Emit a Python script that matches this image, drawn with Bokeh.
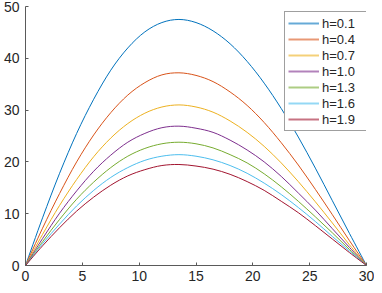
from bokeh.plotting import figure
from bokeh.models import Legend, LegendItem, FixedTicker, Range1d, ColumnDataSource
from bokeh.embed import file_html
from bokeh.resources import INLINE

x = [0, 1.5, 3, 4.5, 6, 7.5, 9, 10.5, 12, 13.5, 15, 16.5, 18, 19.5, 21, 22.5, 24, 25.5, 27, 28.5, 30]

y_h01 = [0, 9.2, 17.8, 25.5, 32.1, 37.7, 42.0, 45.1, 46.9, 47.5, 46.9, 45.3, 42.8, 39.4, 35.2, 30.3, 24.8, 18.8, 12.5, 6.2, 0]
y_h04 = [0, 7.2, 13.9, 20.0, 25.2, 29.5, 32.9, 35.3, 36.8, 37.2, 36.7, 35.5, 33.5, 30.9, 27.6, 23.7, 19.4, 14.7, 9.8, 4.8, 0]
y_h07 = [0, 6.0, 11.6, 16.6, 21.0, 24.6, 27.4, 29.4, 30.6, 31.0, 30.6, 29.6, 27.9, 25.7, 23.0, 19.8, 16.2, 12.3, 8.2, 4.0, 0]
y_h10 = [0, 5.2, 10.1, 14.4, 18.2, 21.3, 23.8, 25.5, 26.6, 26.9, 26.5, 25.7, 24.2, 22.3, 20.0, 17.2, 14.0, 10.7, 7.1, 3.5, 0]
y_h13 = [0, 4.6, 8.9, 12.8, 16.1, 18.9, 21.1, 22.6, 23.5, 23.8, 23.5, 22.7, 21.4, 19.8, 17.7, 15.2, 12.4, 9.4, 6.3, 3.1, 0]
y_h16 = [0, 4.2, 8.0, 11.5, 14.5, 17.0, 18.9, 20.3, 21.1, 21.4, 21.1, 20.4, 19.3, 17.8, 15.9, 13.7, 11.2, 8.5, 5.6, 2.8, 0]
y_h19 = [0, 3.8, 7.3, 10.5, 13.2, 15.5, 17.3, 18.5, 19.3, 19.5, 19.2, 18.6, 17.6, 16.2, 14.5, 12.4, 10.2, 7.7, 5.1, 2.5, 0]

labels = ["h=0.1", "h=0.4", "h=0.7", "h=1.0", "h=1.3", "h=1.6", "h=1.9"]
series = [y_h01, y_h04, y_h07, y_h10, y_h13, y_h16, y_h19]
colors = ["#0072BD", "#D95319", "#EDB120", "#7E2F8E", "#77AC30", "#4DBEEE", "#A2142F"]

x_ticks = [0, 5, 10, 15, 20, 25, 30]
y_ticks = [0, 10, 20, 30, 40, 50]


def smooth_segments(xs, ys):
    """Cubic Bezier segments through the data points (Catmull-Rom tangents)."""
    n = len(xs)
    d = dict(x0=[], y0=[], x1=[], y1=[], cx0=[], cy0=[], cx1=[], cy1=[])
    for i in range(n - 1):
        xm, ym = (xs[i - 1], ys[i - 1]) if i > 0 else (xs[i], ys[i])
        xp, yp = (xs[i + 2], ys[i + 2]) if i + 2 < n else (xs[i + 1], ys[i + 1])
        d["x0"].append(xs[i]); d["y0"].append(ys[i])
        d["x1"].append(xs[i + 1]); d["y1"].append(ys[i + 1])
        d["cx0"].append(xs[i] + (xs[i + 1] - xm) / 6.0)
        d["cy0"].append(ys[i] + (ys[i + 1] - ym) / 6.0)
        d["cx1"].append(xs[i + 1] - (xp - xs[i]) / 6.0)
        d["cy1"].append(ys[i + 1] - (yp - ys[i]) / 6.0)
    return ColumnDataSource(d)


p = figure(width=374, height=285, output_backend="svg", toolbar_location=None,
           x_range=Range1d(0, 30), y_range=Range1d(0, 50),
           min_border_left=24, min_border_right=8, min_border_top=6, min_border_bottom=20)
p.background_fill_color = "white"
p.border_fill_color = "white"
p.outline_line_color = None
p.xgrid.visible = False
p.ygrid.visible = False

legend_renderers = []
nan = float("nan")
for ys, c in zip(series, colors):
    src = smooth_segments(x, ys)
    p.bezier(x0="x0", y0="y0", x1="x1", y1="y1", cx0="cx0", cy0="cy0",
             cx1="cx1", cy1="cy1", source=src, line_color=c, line_width=1)
    # key line for the legend (nothing drawn in the plot area)
    legend_renderers.append(p.line(x=[0, 0], y=[nan, nan], line_color=c, line_width=2, line_alpha=0.6))

for ax, ticks in ((p.xaxis[0], x_ticks), (p.yaxis[0], y_ticks)):
    ax.ticker = FixedTicker(ticks=ticks)
    ax.minor_tick_line_color = None
    ax.major_tick_in = 3
    ax.major_tick_out = 0
    ax.axis_line_color = "#5a5a5a"
    ax.major_tick_line_color = "#5a5a5a"
    ax.major_label_text_font = "Liberation Sans"
    ax.major_label_text_font_size = "14px"
    ax.major_label_text_color = "#262626"
p.xaxis[0].major_label_standoff = 5
p.yaxis[0].major_label_standoff = 6

items = [LegendItem(label=l, renderers=[r]) for l, r in zip(labels, legend_renderers)]
legend = Legend(items=items, location=(259, 134))
legend.label_text_font = "Liberation Sans"
legend.label_text_font_size = "13px"
legend.label_text_color = "#262626"
legend.glyph_width = 31
legend.glyph_height = 16
legend.label_height = 16
legend.label_width = 41
legend.label_standoff = 3
legend.spacing = 0
legend.padding = 3
legend.margin = 0
legend.border_line_color = "#404040"
legend.border_line_width = 1
legend.background_fill_color = "white"
legend.background_fill_alpha = 1
p.add_layout(legend, "center")

open("out.html", "w").write(file_html(p, INLINE))
